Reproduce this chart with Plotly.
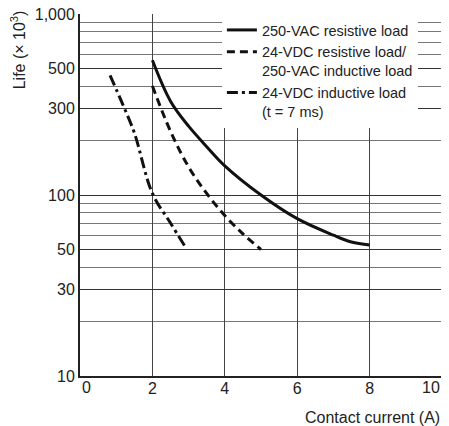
import plotly.graph_objects as go

# Data
ac_res_current = [2.0, 2.5, 3.0, 3.5, 4.0, 5.0, 6.0, 7.0, 7.5, 8.0]
ac_res_life = [555, 330, 240, 185, 145, 100, 74, 60, 55, 53]

dc_res_current = [2.0, 2.5, 3.0, 3.5, 4.0, 4.5, 5.0]
dc_res_life = [400, 225, 143, 102, 77, 61, 50]

dc_ind_current = [0.83, 1.2, 1.5, 2.0, 2.5, 2.9]
dc_ind_life = [458, 310, 221, 102, 70, 52]

x_ticks = [0, 2, 4, 6, 8, 10]
x_tick_text = ["0", "2", "4", "6", "8", "10"]
y_major = [10, 30, 50, 100, 300, 500, 1000]
y_major_text = ["10", "30", "50", "100", "300", "500", "1,000"]
y_minor = [20, 40, 60, 70, 80, 90, 200, 400, 600, 700, 800, 900]

font = dict(family="Liberation Sans, Arial, sans-serif", size=16, color="#222")
legend_font = dict(family="Liberation Sans, Arial, sans-serif", size=14.5, color="#222")

fig = go.Figure()
fig.add_trace(go.Scatter(x=ac_res_current, y=ac_res_life, mode="lines",
                         line=dict(color="#111", width=3, shape="spline"),
                         name="250-VAC resistive load"))
fig.add_trace(go.Scatter(x=dc_res_current, y=dc_res_life, mode="lines",
                         line=dict(color="#111", width=3, dash="8px,5px", shape="spline"),
                         name="24-VDC resistive load/<br>250-VAC inductive load"))
fig.add_trace(go.Scatter(x=dc_ind_current, y=dc_ind_life, mode="lines",
                         line=dict(color="#111", width=3, dash="11px,4px,3px,4px", shape="spline"),
                         name="24-VDC inductive load<br>(t = 7 ms)"))

# end labels of the x axis sit inside the axis span, as in the original
inner_x_text = [t if 0 < i < len(x_ticks) - 1 else "" for i, t in enumerate(x_tick_text)]
end_labels = [
    dict(text=x_tick_text[0], x=x_ticks[0], xanchor="left"),
    dict(text=x_tick_text[-1], x=x_ticks[-1], xanchor="right"),
]

annotations = [
    dict(text="Life (× 10<sup>3</sup>)", textangle=-90, xref="paper", yref="paper",
         x=-0.171, y=0.9, xanchor="center", yanchor="middle", showarrow=False, font=font),
    dict(text="Contact current (A)", xref="paper", yref="paper",
         x=1, y=-0.115, xanchor="right", yanchor="middle", showarrow=False, font=font),
]
for lab in end_labels:
    annotations.append(dict(text=lab["text"], x=lab["x"], xref="x", y=0, yref="paper",
                            xanchor=lab["xanchor"], yanchor="top", yshift=-1,
                            showarrow=False, font=font))

# page body has an 8px margin, so the figure is a bit smaller than the window
fig.update_layout(
    width=441, height=418,
    margin=dict(l=72, r=7, t=6, b=50),
    plot_bgcolor="white", paper_bgcolor="white",
    font=font,
    legend=dict(x=0.392, xanchor="left", y=1, yanchor="top", bgcolor="white",
                valign="top", tracegroupgap=0, font=legend_font,
                itemwidth=30),
    xaxis=dict(range=[0, 10], tickvals=x_ticks, ticktext=inner_x_text, showgrid=True,
               gridcolor="#444", gridwidth=1.2, zeroline=False, showline=True,
               linecolor="#222", linewidth=2, ticks="", tickfont=font,
               ticklabeloverflow="allow", ticklabelstandoff=-3, automargin=False),
    yaxis=dict(type="log", range=[1, 3], tickvals=y_major, ticktext=y_major_text,
               showgrid=True, gridcolor="#333", gridwidth=1.2, zeroline=False,
               showline=True, linecolor="#222", linewidth=2, ticks="", tickfont=font,
               ticklabeloverflow="allow", automargin=False,
               minor=dict(tickvals=y_minor, showgrid=True, gridcolor="#777", gridwidth=1.2)),
    annotations=annotations,
)

fig.write_html("out.html")
